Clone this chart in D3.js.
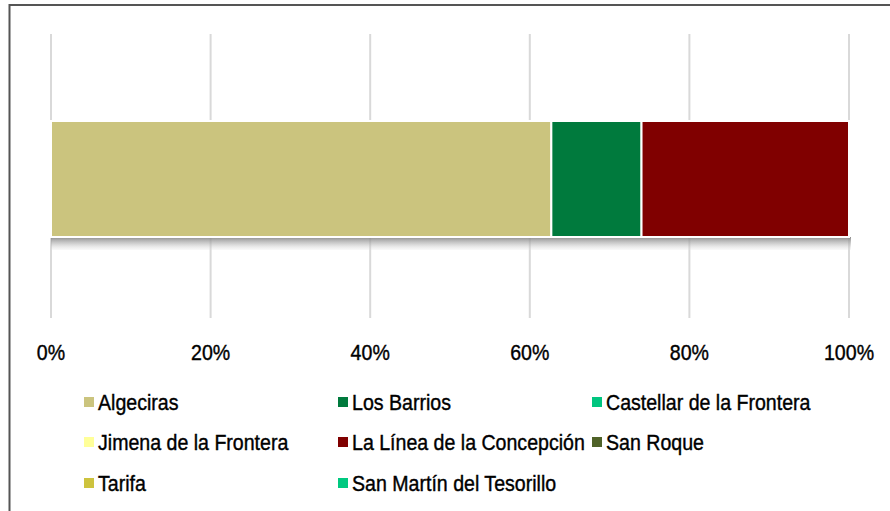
<!DOCTYPE html>
<html>
<head>
<meta charset="utf-8">
<script src="https://cdn.jsdelivr.net/npm/d3@7"></script>
<style>
  body { margin: 0; background: #fff; }
  svg { display: block; font-family: "Liberation Sans", Arial, sans-serif; }
</style>
</head>
<body>
<div id="viz"></div>
<script>
// share of each municipality (percent)
var municipios = ['Algeciras', 'Los Barrios', 'Castellar de la Frontera',
                  'Jimena de la Frontera', 'La Línea de la Concepción', 'San Roque',
                  'Tarifa', 'San Martín del Tesorillo'];
var valores = [62.7, 11.3, 0, 0, 26.0, 0, 0, 0];
var colores = ['#cbc47e', '#007a3d', '#00c57f', '#ffff99', '#800000', '#4f6228', '#cdc33e', '#00c980'];
var ticks = [0, 20, 40, 60, 80, 100];

var width = 890, height = 511,
    margin = { left: 51, right: 41, top: 34 },
    squeeze = 0.89; // narrow type

var svg = d3.select('#viz').append('svg')
    .attr('width', width)
    .attr('height', height);

// frame
svg.append('path')
    .attr('d', 'M9.5,' + height + ' V5 H' + width)
    .attr('fill', 'none')
    .attr('stroke', '#555')
    .attr('stroke-width', 2);

var xScale = d3.scaleLinear()
    .domain([0, 100])
    .range([margin.left, width - margin.right]);

var yScale = d3.scaleBand()
    .domain(['total'])
    .range([margin.top, 324])
    .paddingInner(0)
    .paddingOuter(0.75);

// gridlines
svg.append('g').selectAll('line').data(ticks)
  .enter().append('line')
    .attr('x1', function(d) { return xScale(d); })
    .attr('x2', function(d) { return xScale(d); })
    .attr('y1', margin.top)
    .attr('y2', 318)
    .attr('stroke', '#d9d9d9')
    .attr('stroke-width', 2);

// shadow
var defs = svg.append('defs');
var grad = defs.append('linearGradient')
    .attr('id', 'shadow')
    .attr('x1', 0).attr('x2', 0).attr('y1', 0).attr('y2', 1);
grad.append('stop').attr('offset', '0%').attr('stop-color', '#808080').attr('stop-opacity', 0.9);
grad.append('stop').attr('offset', '50%').attr('stop-color', '#b0b0b0').attr('stop-opacity', 0.6);
grad.append('stop').attr('offset', '100%').attr('stop-color', '#e0e0e0').attr('stop-opacity', 0.2);

var barTop = yScale('total'), barH = yScale.bandwidth();
svg.append('rect')
    .attr('x', xScale(0))
    .attr('y', barTop + barH)
    .attr('width', xScale(100) - xScale(0) + 2)
    .attr('height', 13)
    .attr('fill', 'url(#shadow)');

// stacked segments
var acumulado = 0;
var segmentos = valores.map(function(v, i) {
  var s = { nombre: municipios[i], x0: acumulado, x1: acumulado + v, color: colores[i] };
  acumulado += v;
  return s;
});

svg.append('g').selectAll('rect').data(segmentos.filter(function(d) { return d.x1 > d.x0; }))
  .enter().append('rect')
    .attr('x', function(d) { return xScale(d.x0); })
    .attr('y', barTop)
    .attr('width', function(d) { return xScale(d.x1) - xScale(d.x0); })
    .attr('height', barH)
    .attr('fill', function(d) { return d.color; })
    .attr('stroke', '#fff')
    .attr('stroke-width', 2);

// axis labels (narrowed text centred on each tick)
svg.append('g').selectAll('text').data(ticks)
  .enter().append('text')
    .attr('transform', function(d) { return 'translate(' + xScale(d) + ',352) scale(' + squeeze + ',1)'; })
    .attr('text-anchor', 'middle')
    .attr('dy', '0.35em')
    .attr('font-size', 22)
    .attr('fill', '#000')
    .attr('stroke', '#000')
    .attr('stroke-width', 0.4)
    .text(function(d) { return d + '%'; });

// legend
var cols = [84, 338, 592], rows = [402, 442, 483];
var legend = svg.append('g').selectAll('g').data(municipios)
  .enter().append('g')
    .attr('transform', function(d, i) {
      return 'translate(' + cols[i % 3] + ',' + rows[Math.floor(i / 3)] + ')';
    });
legend.append('rect')
    .attr('x', 0).attr('y', -5)
    .attr('width', 10).attr('height', 10)
    .attr('fill', function(d, i) { return colores[i]; });
legend.append('text')
    .attr('transform', 'translate(14,0) scale(' + squeeze + ',1)')
    .attr('dy', '0.35em')
    .attr('font-size', 22)
    .attr('fill', '#000')
    .attr('stroke', '#000')
    .attr('stroke-width', 0.4)
    .text(function(d) { return d; });
</script>
</body>
</html>
